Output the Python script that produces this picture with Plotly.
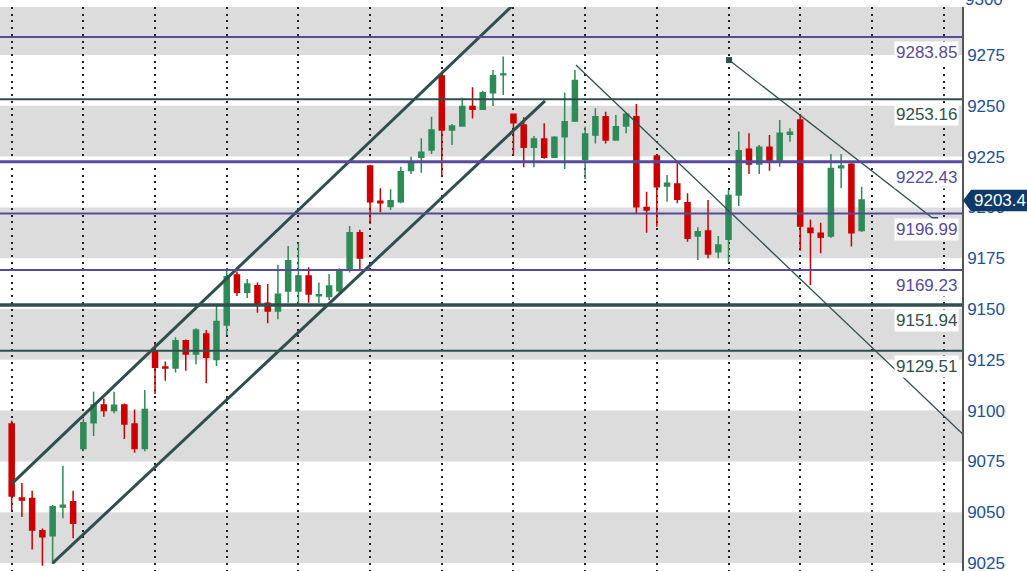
import plotly.graph_objects as go

# ---- data ----
opens = [9093.4, 9057.0, 9056.8, 9040.9, 9038.4, 9052.6, 9055.2, 9081.4, 9094.0, 9102.8,
         9100.0, 9102.8, 9093.4, 9081.4, 9129.0, 9121.5, 9121.0, 9134.4, 9127.9, 9137.7,
         9125.2, 9142.1, 9166.7, 9158.2, 9161.5, 9152.8, 9149.0, 9158.9, 9158.9, 9166.2,
         9156.5, 9156.1, 9159.0, 9170.0, 9187.5, 9220.4, 9203.0, 9200.4, 9202.8, 9218.1,
         9224.7, 9228.2, 9264.7, 9238.1, 9240.1, 9249.6, 9248.3, 9256.4, 9265.3, 9245.8,
         9240.6, 9229.6, 9233.7, 9224.7, 9234.8, 9242.5, 9223.7, 9235.6, 9244.6, 9233.2,
         9240.1, 9244.6, 9200.0, 9225.3, 9210.5, 9211.5, 9202.3, 9185.9, 9188.4, 9178.2,
         9184.3, 9206.1, 9228.6, 9221.4, 9229.6, 9223.3, 9236.0, 9243.0, 9189.7, 9187.3,
         9185.9, 9219.5, 9221.2, 9188.6]
highs = [9095.0, 9064.4, 9060.6, 9042.0, 9053.5, 9072.9, 9060.6, 9096.1, 9109.3, 9106.0,
         9109.3, 9103.5, 9100.6, 9110.1, 9133.1, 9124.1, 9136.1, 9135.0, 9140.5, 9139.7,
         9151.5, 9170.0, 9168.4, 9164.8, 9163.1, 9162.3, 9171.7, 9181.0, 9182.3, 9170.5,
         9163.0, 9167.2, 9170.0, 9190.8, 9189.0, 9221.0, 9209.4, 9208.9, 9220.0, 9225.0,
         9234.0, 9244.6, 9265.0, 9241.0, 9254.0, 9259.1, 9257.4, 9267.6, 9274.2, 9246.0,
         9244.4, 9235.1, 9241.4, 9235.0, 9256.6, 9267.6, 9239.7, 9248.8, 9247.1, 9245.5,
         9246.5, 9250.9, 9207.7, 9225.8, 9215.9, 9221.7, 9206.9, 9190.2, 9203.6, 9185.9,
         9208.6, 9237.3, 9236.5, 9230.7, 9235.6, 9243.0, 9238.9, 9246.0, 9194.1, 9192.5,
         9226.3, 9226.3, 9222.5, 9210.2]
lows = [9051.1, 9047.6, 9031.7, 9023.7, 9024.5, 9047.0, 9037.2, 9080.0, 9087.5, 9097.0,
        9098.7, 9086.0, 9079.3, 9080.0, 9108.2, 9114.7, 9118.7, 9119.6, 9122.8, 9113.4,
        9121.9, 9137.2, 9156.4, 9155.4, 9148.2, 9143.0, 9145.0, 9153.1, 9152.8, 9153.1,
        9153.0, 9154.4, 9157.0, 9168.0, 9169.2, 9191.8, 9197.6, 9198.7, 9202.0, 9216.4,
        9217.0, 9226.3, 9214.8, 9230.7, 9239.7, 9243.8, 9248.0, 9249.9, 9255.3, 9225.8,
        9219.7, 9219.7, 9224.0, 9224.3, 9218.9, 9242.0, 9213.8, 9231.5, 9231.5, 9233.0,
        9236.5, 9196.8, 9187.5, 9190.5, 9202.8, 9202.0, 9183.1, 9174.1, 9175.0, 9175.0,
        9172.8, 9200.7, 9216.4, 9216.4, 9218.0, 9220.0, 9232.3, 9178.7, 9161.8, 9177.4,
        9185.0, 9209.4, 9180.7, 9188.0]
closes = [9058.0, 9056.0, 9041.2, 9037.9, 9052.7, 9053.4, 9044.5, 9094.0, 9102.8, 9100.0,
          9102.6, 9093.4, 9081.4, 9100.6, 9121.3, 9121.0, 9134.4, 9127.9, 9139.7, 9126.2,
          9143.8, 9165.9, 9158.2, 9162.3, 9152.8, 9149.0, 9157.2, 9173.8, 9166.2, 9157.4,
          9157.0, 9161.3, 9169.0, 9187.5, 9175.1, 9202.8, 9202.3, 9203.3, 9217.6, 9222.2,
          9227.1, 9238.1, 9238.1, 9240.1, 9249.6, 9248.3, 9256.4, 9264.8, 9265.7, 9241.7,
          9229.6, 9233.7, 9224.7, 9234.5, 9242.2, 9262.4, 9236.1, 9244.6, 9233.2, 9239.7,
          9245.8, 9200.3, 9198.7, 9210.2, 9211.9, 9204.0, 9184.8, 9188.0, 9177.1, 9181.5,
          9205.8, 9227.9, 9221.4, 9229.6, 9223.0, 9236.5, 9237.0, 9190.8, 9187.7, 9185.3,
          9219.2, 9220.4, 9187.5, 9203.6]
bar_index = list(range(len(opens)))

level_values = [9283.85, 9253.16, 9222.43, 9196.99, 9169.23, 9151.94, 9129.51]
level_labels = ["9283.85", "9253.16", "9222.43", "9196.99", "9169.23", "9151.94", "9129.51"]
level_kind = ["p", "d", "p", "p", "p", "d", "d"]
level_width = [2, 2, 3, 2, 2, 3.5, 2]

band_lows = [9025, 9075, 9125, 9175, 9225, 9275]
band_highs = [9050, 9100, 9150, 9200, 9250, 9300]

# label above the visible range (partially cut at the top, as in the source)
top_tick_value = 9300
top_tick_text = "9300"

# channel / trend lines (bar index, price)
upper_channel_x = [0, 50]
upper_channel_y = [9063.9, 9304.6]
lower_channel_x = [4.0, 52.08]
lower_channel_y = [9024.9, 9252.4]
down_trend1_x = [55.1, 95]
down_trend1_y = [9270.1, 9078.2]
down_trend2_x = [70.05, 90.17]
down_trend2_y = [9272.5, 9193.8]

last_price = 9203.4
last_price_text = "9203.4"

# ---- styles ----
PURPLE = "#574a9c"
DARK = "#2f4f4f"
RED = "#cc0000"
GREEN = "#2e8b57"
BAND = "#dcdcdc"
TICKBLUE = "#1d4f9a"
NAVY = "#0d3a69"
FONT = "Liberation Sans"

Y_RANGE = [9021.06, 9298.62]
X_RANGE = [-1.14, 92.8]
TOP_MARGIN = 7

fig = go.Figure()

fig.add_trace(go.Candlestick(
    x=bar_index, open=opens, high=highs, low=lows, close=closes,
    increasing=dict(line=dict(color=GREEN, width=1.5), fillcolor=GREEN),
    decreasing=dict(line=dict(color=RED, width=1.5), fillcolor=RED),
    whiskerwidth=0, hoverinfo="skip", showlegend=False,
))

for xs, ys in [(upper_channel_x, upper_channel_y), (lower_channel_x, lower_channel_y)]:
    fig.add_trace(go.Scatter(x=xs, y=ys, mode="lines",
                             line=dict(color=DARK, width=3), hoverinfo="skip", showlegend=False))

fig.add_trace(go.Scatter(x=down_trend1_x, y=down_trend1_y, mode="lines",
                         line=dict(color=DARK, width=1.3), hoverinfo="skip", showlegend=False))
fig.add_trace(go.Scatter(x=down_trend2_x, y=down_trend2_y, mode="lines+markers",
                         line=dict(color=DARK, width=1.3),
                         marker=dict(symbol="square", size=6, color=DARK),
                         hoverinfo="skip", showlegend=False))

shapes = []
for lo, hi in zip(band_lows, band_highs):
    shapes.append(dict(type="rect", xref="paper", x0=0, x1=1, yref="y",
                       y0=lo, y1=min(hi, Y_RANGE[1]),
                       fillcolor=BAND, line=dict(width=0), layer="below"))

annotations = []
for v, lab, kind, w in zip(level_values, level_labels, level_kind, level_width):
    col = PURPLE if kind == "p" else DARK
    shapes.append(dict(type="line", xref="paper", x0=0, x1=1, yref="y", y0=v, y1=v,
                       line=dict(color=col, width=w), layer="above"))
    annotations.append(dict(xref="paper", x=1, xanchor="right", xshift=-3,
                            yref="y", y=v, yanchor="top", yshift=-4,
                            text=lab, showarrow=False, bgcolor="white", borderpad=1,
                            font=dict(family=FONT, size=17, color=col)))

# 9300 tick label sits just above the plot area, cut by the page top
top_paper_y = 1 + (top_tick_value - Y_RANGE[1]) / (Y_RANGE[1] - Y_RANGE[0])
annotations.append(dict(xref="paper", x=1, xanchor="left", xshift=1,
                        yref="paper", y=top_paper_y, yanchor="middle", yshift=5,
                        text=top_tick_text, showarrow=False,
                        font=dict(family=FONT, size=17, color=TICKBLUE)))

# current price tag (paper x beyond plot area)
PW = 962.0
dy = 5.3
tip = 963.0 / PW
shoulder = 971.0 / PW
shapes.append(dict(type="path", xref="paper", yref="y", layer="above",
                   path=(f"M {tip},{last_price} L {shoulder},{last_price + dy} "
                         f"L {1040 / PW},{last_price + dy} L {1040 / PW},{last_price - dy} "
                         f"L {shoulder},{last_price - dy} Z"),
                   fillcolor=NAVY, line=dict(width=0)))
annotations.append(dict(xref="paper", x=972.0 / PW, xanchor="left", yref="y", y=last_price,
                        yanchor="middle", text=last_price_text, showarrow=False,
                        font=dict(family=FONT, size=17, color="white")))

fig.update_layout(
    width=1027, height=571,
    margin=dict(l=0, r=65, t=TOP_MARGIN, b=0),
    paper_bgcolor="white", plot_bgcolor="white",
    showlegend=False,
    shapes=shapes, annotations=annotations,
    xaxis=dict(range=X_RANGE, rangeslider=dict(visible=False), showticklabels=False,
               showgrid=True, gridcolor="#222222", gridwidth=2, griddash="2px,4.7px",
               tick0=0, dtick=7, zeroline=False, showline=False, ticks="", fixedrange=True),
    yaxis=dict(range=Y_RANGE, side="right", tick0=9025, dtick=25, showgrid=False,
               zeroline=False, showline=True, linecolor="#555555", linewidth=1.5,
               ticks="", tickfont=dict(family=FONT, size=17, color=TICKBLUE),
               ticklabeloverflow="allow", automargin=False, fixedrange=True),
    boxgap=0.3,
)

fig.write_html("out.html", config={"displayModeBar": False},
               post_script="document.body.style.margin='0';document.body.style.overflow='hidden';")
